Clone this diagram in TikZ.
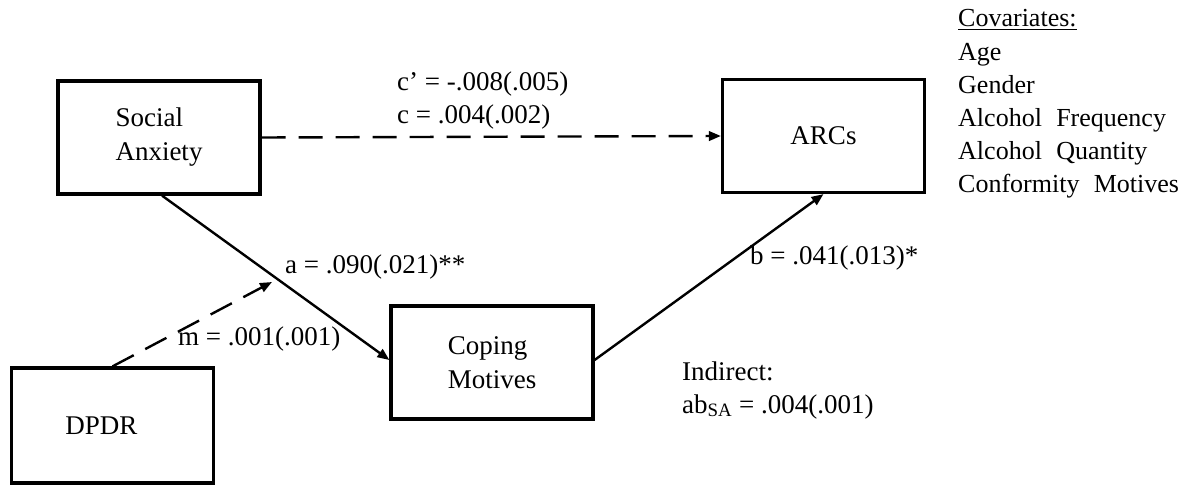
\documentclass[tikz,border=0pt]{standalone}
\usepackage{fontspec}
\setmainfont{Liberation Serif}
\usetikzlibrary{arrows.meta}
\begin{document}
\begin{tikzpicture}[x=1pt,y=-1pt,
  every node/.style={font=\fontsize{27}{34}\selectfont, inner sep=0pt},
  varbox/.style={draw, line width=3.2pt, rectangle, align=left,
    minimum width=202pt, minimum height=113pt},
  path/.style={line width=2.4pt, -{Triangle[length=12pt,width=9.5pt]}},
  dashedpath/.style={path, dash pattern=on 24pt off 13pt},
  lbl/.style={anchor=base west},
  covar/.style={anchor=base west, font=\fontsize{26}{32}\selectfont}]
\useasboundingbox (0,0) rectangle (1189,487);

% variables
\node[varbox] (sa)   at (159,137.5) {Social\\Anxiety};
\node[varbox] (arcs) at (823.5,136)  {ARCs};
\node[varbox] (cm)   at (492,362.5)  {Coping\\Motives};
\node[varbox, minimum height=115pt] (dpdr) at (112.5,425.5) {DPDR\hspace*{22pt}};

% moderation target on the a path
\coordinate (mend) at (272,282);

% paths
\draw[dashedpath] (sa.east) -- (arcs.west);
\draw[path] ([xshift=3pt]sa.south) -- ([yshift=2.5pt]cm.west);
\draw[path] ([yshift=2.5pt]cm.east) -- (arcs.south);
\draw[dashedpath] (dpdr.north) -- (mend);

% path coefficients
\node[lbl] (lcp) at (397,90)  {c’ = -.008(.005)};
\node[lbl] (lc)  at (397,123) {c = .004(.002)};
\node[lbl] (la)  at (285,273) {a = .090(.021)**};
\node[lbl] (lm)  at (178,345) {m = .001(.001)};
\node[lbl] (lb)  at (750,264) {b = .041(.013)*};
\node[lbl] (lind) at (682,380) {Indirect:};
\node[lbl] (lab)  at (682,413) {ab\textsubscript{SA} = .004(.001)};

% covariates
\node[covar] (cv0) at (958,27)  {\underline{Covariates:}};
\node[covar] (cv1) at (958,60)  {Age};
\node[covar] (cv2) at (958,93)  {Gender};
\node[covar] (cv3) at (958,126) {Alcohol\hspace{0.3em} Frequency};
\node[covar] (cv4) at (958,159) {Alcohol\hspace{0.3em} Quantity};
\node[covar] (cv5) at (958,192) {Conformity\hspace{0.3em} Motives};
\end{tikzpicture}
\end{document}
